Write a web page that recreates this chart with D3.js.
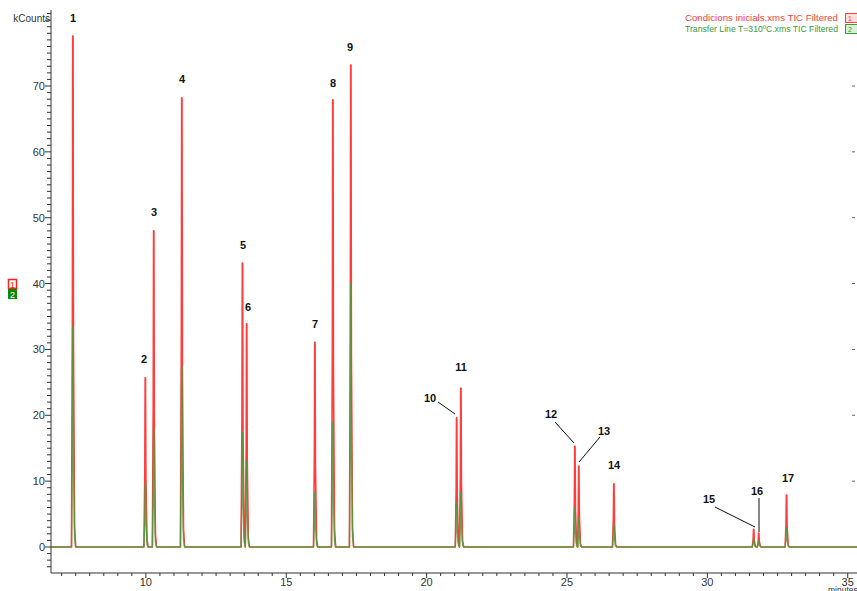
<!DOCTYPE html>
<html>
<head>
<meta charset="utf-8">
<script src="https://cdn.jsdelivr.net/npm/d3@7"></script>
<style>
  body { margin: 0; background: #fff; }
  text { font-family: "Liberation Sans", Arial, sans-serif; }
</style>
</head>
<body>
<script>
(function(){
    // peak number, retention time (min), height (kCounts)
    var peakIds = [1, 2, 3, 4, 5, 6, 7, 8, 9, 10, 11, 12, 13, 14, 15, 16, 17];
    var peakTimes = [7.40, 9.98, 10.28, 11.28, 13.44, 13.59, 16.02, 16.66, 17.30,
                     21.07, 21.22, 25.28, 25.42, 26.67, 31.65, 31.83, 32.82];
    var redHeights = [77.6, 25.7, 48.0, 68.2, 43.1, 33.9, 31.1, 67.9, 73.2,
                      19.6, 24.1, 15.3, 12.3, 9.6, 2.7, 2.1, 7.9];
    var greenHeights = [33.5, 9.7, 18.0, 27.5, 17.5, 13.0, 8.3, 19.0, 40.0,
                        6.7, 8.3, 5.9, 4.4, 3.5, 1.3, 0.9, 2.9];
    var seriesNames = ["Condicions inicials.xms TIC Filtered",
                       "Transfer Line T=310\u00baC.xms TIC Filtered"];
    var xTicks = [10, 15, 20, 25, 30, 35];
    var yTicks = [0, 10, 20, 30, 40, 50, 60, 70];

    // label positions (pixels) and leader lines for the peak numbers
    var labelPos = [[73, 22], [144, 363], [154, 216], [182, 83], [243, 249], [248, 311],
                    [315, 328], [333, 87], [350, 51], [430, 402], [461, 371], [551, 418],
                    [604, 435], [614, 469], [709, 503], [757, 495], [788, 482]];
    var leaders = {10: [438, 402, 455, 414], 12: [555, 422, 574, 443],
                   13: [600, 437, 579, 462], 15: [715, 507, 755, 527],
                   16: [759, 498, 759, 532]};

    var svgWidth = 857, svgHeight = 591;
    var svg = d3.select("body").append("svg")
        .attr("width", svgWidth).attr("height", svgHeight);

    var x = d3.scaleLinear().domain([6.62, 35.33]).range([51, 857]);
    var y = d3.scaleLinear().domain([0, 70]).range([547, 86]);
    var axisY = 573;

    // build a trace: flat baseline with a narrow peak at each retention time
    function trace(heights) {
        var pts = [[6.62, 0]];
        peakTimes.forEach(function (t, i) {
            var h = heights[i];
            pts.push([t - 0.05, 0], [t - 0.018, h * 0.45], [t - 0.006, h],
                     [t + 0.006, h], [t + 0.02, h * 0.4], [t + 0.06, h * 0.04], [t + 0.1, 0]);
        });
        pts.push([35.33, 0]);
        pts.sort(function (a, b) { return a[0] - b[0]; });
        return pts;
    }

    var line = d3.line().x(function (d) { return x(d[0]); })
        .y(function (d) { return y(d[1]); });

    svg.append("path").datum(trace(redHeights))
        .attr("d", line).attr("fill", "none")
        .attr("stroke", "#ff3d3d").attr("stroke-width", 1.6)
        .attr("stroke-linejoin", "round");
    svg.append("path").datum(trace(greenHeights))
        .attr("d", line).attr("fill", "none")
        .attr("stroke", "#3da53d").attr("stroke-width", 1.4)
        .attr("stroke-opacity", 0.8)
        .attr("stroke-linejoin", "round");

    // y axis
    var yAxis = svg.append("g");
    yAxis.append("line").attr("x1", 51).attr("x2", 51)
        .attr("y1", 10).attr("y2", axisY).attr("stroke", "#333");
    d3.range(-3, 82).forEach(function (v) {
        var major = v % 10 === 0;
        yAxis.append("line").attr("x1", major ? 45 : 47).attr("x2", 51)
            .attr("y1", y(v)).attr("y2", y(v)).attr("stroke", "#333");
    });
    yAxis.selectAll("text.tick").data(yTicks).enter().append("text")
        .attr("class", "tick")
        .attr("x", 45).attr("y", function (d) { return y(d) + 4; })
        .attr("text-anchor", "end").attr("font-size", 11).attr("fill", "#333")
        .text(function (d) { return d; });
    yAxis.append("text").attr("x", 50).attr("y", 22)
        .attr("text-anchor", "end").attr("font-size", 10).attr("fill", "#333")
        .text("kCounts");

    // little right-side marks
    yTicks.slice(1).forEach(function (v) {
        svg.append("line").attr("x1", 852).attr("x2", 855)
            .attr("y1", y(v)).attr("y2", y(v)).attr("stroke", "#666");
    });

    // x axis
    var xAxis = svg.append("g");
    xAxis.append("line").attr("x1", 51).attr("x2", 857)
        .attr("y1", axisY).attr("y2", axisY).attr("stroke", "#333");
    d3.range(7, 35.5, 0.5).forEach(function (t) {
        var major = t % 5 === 0;
        xAxis.append("line").attr("x1", x(t)).attr("x2", x(t))
            .attr("y1", axisY).attr("y2", axisY + (major ? 5 : 3)).attr("stroke", "#333");
    });
    xAxis.selectAll("text.tick").data(xTicks).enter().append("text")
        .attr("class", "tick")
        .attr("x", function (d) { return x(d); }).attr("y", axisY + 13)
        .attr("text-anchor", "middle").attr("font-size", 11).attr("fill", "#333")
        .text(function (d) { return d; });
    xAxis.append("text").attr("x", 828).attr("y", 593)
        .attr("font-size", 8.5).attr("fill", "#333").text("minutes");

    // peak numbers
    svg.selectAll("text.peak").data(peakIds).enter().append("text")
        .attr("class", "peak")
        .attr("x", function (d, i) { return labelPos[i][0]; })
        .attr("y", function (d, i) { return labelPos[i][1]; })
        .attr("text-anchor", "middle").attr("font-size", 11)
        .attr("font-weight", "bold").attr("fill", "#111")
        .text(function (d) { return d; });
    Object.keys(leaders).forEach(function (k) {
        var l = leaders[k];
        svg.append("line").attr("x1", l[0]).attr("y1", l[1])
            .attr("x2", l[2]).attr("y2", l[3]).attr("stroke", "#111");
    });

    // legend top right
    var legendColors = ["#ff3d3d", "#3a9a3a"];
    seriesNames.forEach(function (name, i) {
        svg.append("text").attr("x", 838).attr("y", 21 + i * 11)
            .attr("text-anchor", "end").attr("font-size", 9.5)
            .attr("textLength", 153).attr("lengthAdjust", "spacingAndGlyphs")
            .attr("fill", legendColors[i]).text(name);
        svg.append("rect").attr("x", 845.5).attr("y", 13.5 + i * 11)
            .attr("width", 12).attr("height", 9)
            .attr("fill", i === 0 ? "#ffdede" : "#d8f0d8")
            .attr("stroke", legendColors[i]);
        svg.append("text").attr("x", 848).attr("y", 20.5 + i * 11)
            .attr("font-size", 7).attr("fill", legendColors[i]).text(i + 1);
    });

    // trace markers on the left
    svg.append("rect").attr("x", 8.5).attr("y", 279.5).attr("width", 8).attr("height", 9)
        .attr("fill", "#fff").attr("stroke", "#ff2020").attr("stroke-width", 1.5);
    svg.append("text").attr("x", 12.5).attr("y", 287.5).attr("text-anchor", "middle")
        .attr("font-size", 9).attr("fill", "#ff2020").text("1");
    svg.append("rect").attr("x", 8).attr("y", 289).attr("width", 9).attr("height", 10)
        .attr("fill", "#0a8a0a");
    svg.append("text").attr("x", 12.5).attr("y", 297.5).attr("text-anchor", "middle")
        .attr("font-size", 9).attr("fill", "#fff").text("2");
})();
</script>
</body>
</html>
